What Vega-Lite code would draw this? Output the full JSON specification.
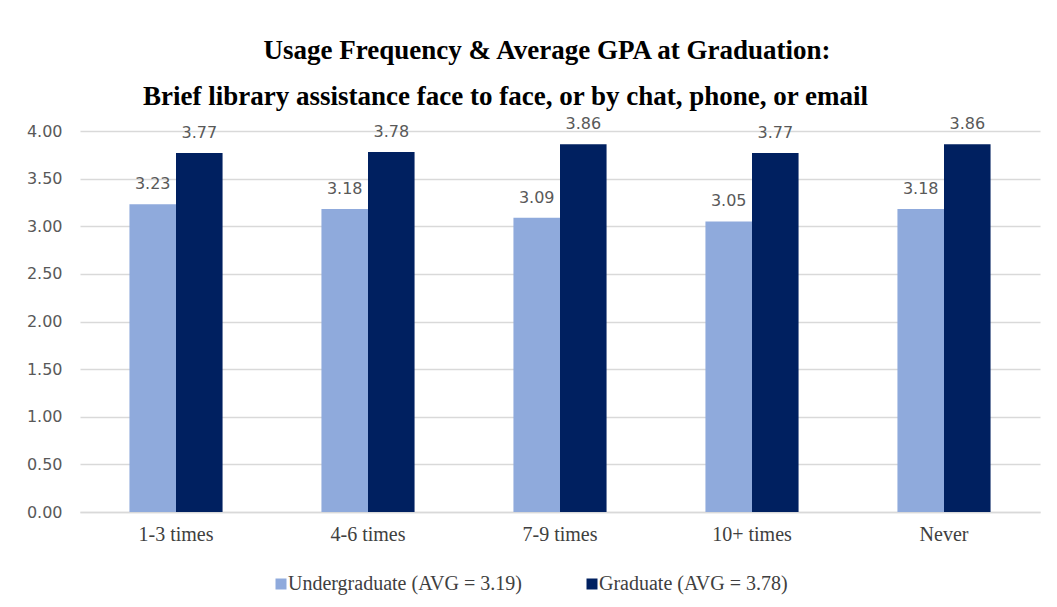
{
  "$schema": "https://vega.github.io/schema/vega-lite/v6.json",
  "width": 960,
  "height": 381,
  "autosize": {"type": "none"},
  "padding": {"left": 80, "top": 131, "right": 17, "bottom": 95},
  "background": "white",
  "title": {
    "text": "Usage Frequency & Average GPA at Graduation:",
    "font": "Liberation Serif",
    "fontSize": 27,
    "fontWeight": "bold",
    "color": "#000000",
    "anchor": "middle",
    "dx": -13,
    "offset": 17
  },
  "data": {
    "values": [
      {"category": "1-3 times", "level": "Undergraduate (AVG = 3.19)", "gpa": 3.23},
      {"category": "1-3 times", "level": "Graduate (AVG = 3.78)", "gpa": 3.77},
      {"category": "4-6 times", "level": "Undergraduate (AVG = 3.19)", "gpa": 3.18},
      {"category": "4-6 times", "level": "Graduate (AVG = 3.78)", "gpa": 3.78},
      {"category": "7-9 times", "level": "Undergraduate (AVG = 3.19)", "gpa": 3.09},
      {"category": "7-9 times", "level": "Graduate (AVG = 3.78)", "gpa": 3.86},
      {"category": "10+ times", "level": "Undergraduate (AVG = 3.19)", "gpa": 3.05},
      {"category": "10+ times", "level": "Graduate (AVG = 3.78)", "gpa": 3.77},
      {"category": "Never", "level": "Undergraduate (AVG = 3.19)", "gpa": 3.18},
      {"category": "Never", "level": "Graduate (AVG = 3.78)", "gpa": 3.86}
    ]
  },
  "encoding": {
    "xOffset": {
      "field": "level",
      "type": "nominal",
      "sort": ["Undergraduate (AVG = 3.19)", "Graduate (AVG = 3.78)"],
      "scale": {"paddingInner": 0, "paddingOuter": 0}
    },
    "y": {
      "field": "gpa",
      "type": "quantitative",
      "scale": {"domain": [0, 4]},
      "axis": {
        "values": [0, 0.5, 1, 1.5, 2, 2.5, 3, 3.5, 4],
        "format": ".2f",
        "title": null,
        "domain": false,
        "ticks": false,
        "tickSize": 0,
        "labelPadding": 18,
        "labelFont": "DejaVu Sans",
        "labelFontSize": 16,
        "labelColor": "#595959",
        "gridColor": "#d9d9d9",
        "gridWidth": 1.5
      }
    }
  },
  "layer": [
    {
      "mark": {"type": "bar"},
      "encoding": {
        "x": {
          "field": "category",
          "type": "nominal",
          "sort": ["1-3 times", "4-6 times", "7-9 times", "10+ times", "Never"],
          "scale": {"paddingInner": 0.515, "paddingOuter": 0.2575},
          "axis": {
            "orient": "bottom",
            "title": null,
            "labelAngle": 0,
            "ticks": false,
            "tickSize": 0,
            "labelPadding": 12,
            "labelFont": "Liberation Serif",
            "labelFontSize": 20,
            "labelColor": "#404040",
            "domainColor": "#d9d9d9",
            "domainWidth": 1.5
          }
        },
        "color": {
          "field": "level",
          "type": "nominal",
          "sort": ["Undergraduate (AVG = 3.19)", "Graduate (AVG = 3.78)"],
          "scale": {"range": ["#8faadc", "#002060"]},
          "legend": {
            "title": null,
            "orient": "none",
            "direction": "horizontal",
            "legendX": 191,
            "legendY": 443,
            "symbolType": "square",
            "symbolSize": 121,
            "symbolStrokeWidth": 0,
            "labelFont": "Liberation Serif",
            "labelFontSize": 20,
            "labelColor": "#404040",
            "labelLimit": 0,
            "labelOffset": -3,
            "columnPadding": 60
          }
        }
      }
    },
    {
      "mark": {
        "type": "text",
        "baseline": "bottom",
        "dy": -12,
        "font": "DejaVu Sans",
        "fontSize": 16,
        "color": "#595959"
      },
      "encoding": {
        "x": {
          "field": "category",
          "type": "nominal",
          "sort": ["1-3 times", "4-6 times", "7-9 times", "10+ times", "Never"],
          "axis": {
            "orient": "top",
            "labels": false,
            "ticks": false,
            "domain": false,
            "grid": false,
            "title": "Brief library assistance face to face, or by chat, phone, or email",
            "titleFont": "Liberation Serif",
            "titleFontSize": 27,
            "titleFontWeight": "bold",
            "titleColor": "#000000",
            "titleX": 425,
            "titleY": -27,
            "titleAnchor": "middle",
            "titleBaseline": "alphabetic"
          }
        },
        "text": {"field": "gpa", "type": "quantitative", "format": ".2f"}
      }
    }
  ],
  "resolve": {"axis": {"x": "independent"}},
  "config": {"view": {"stroke": null}}
}
